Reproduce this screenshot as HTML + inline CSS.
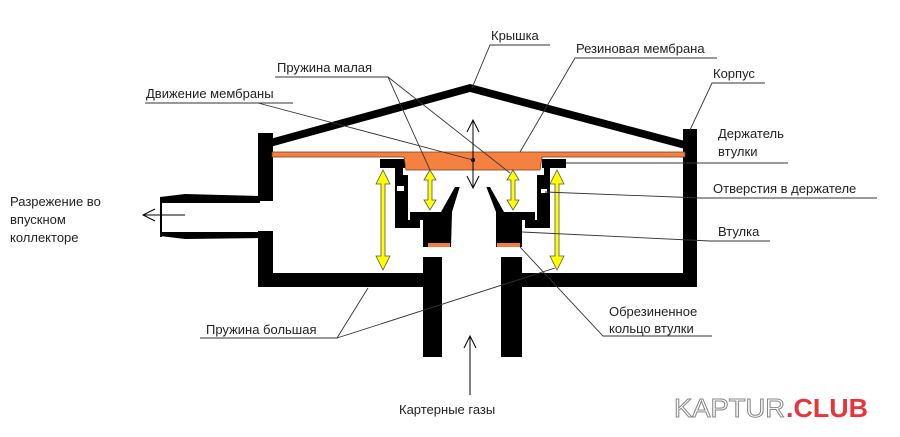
<!DOCTYPE html>
<html><head><meta charset="utf-8"><style>
html,body{margin:0;padding:0;background:#fff;width:900px;height:437px;overflow:hidden}
svg text{font-family:"Liberation Sans",sans-serif;font-size:13px;fill:#222}
</style></head><body>
<svg width="900" height="437" viewBox="0 0 900 437" xmlns="http://www.w3.org/2000/svg">
<g fill="#000">
<polygon points="270,139 470,84 685,141 685,149 470,92 270,147"/>
<rect x="258" y="133" width="15" height="68"/>
<rect x="258" y="231" width="15" height="56"/>
<rect x="683" y="129" width="14" height="158"/>
<rect x="258" y="273" width="439" height="14"/>
<rect x="423" y="257" width="99" height="100"/>
<polygon points="160,197 185,194 260,196 260,203 160,203"/>
<polygon points="160,232 260,232 260,238 185,239 160,236"/>
<rect x="160" y="197" width="2" height="40"/>
<polygon points="380,159 405,159 405,168 403,168 403,175 408,175 408,220 420,220 420,228 395,228 395,168 380,168"/>
<polygon points="566,159 542,159 542,168 544,168 544,175 537,175 537,220 525,220 525,228 550,228 550,168 566,168"/>
<polygon points="410,212 441,212 455,187 490,187 504,212 535,212 535,220 522,220 522,247 423,247 423,220 410,220"/>
</g>
<rect x="442" y="257" width="59" height="100" fill="#fff"/>
<polygon points="460,186 486,186 496,212 496,247 451,247 452,212" fill="#fff"/>
<rect x="397" y="186" width="7" height="5" fill="#fff"/>
<rect x="541" y="189" width="6" height="4" fill="#fff"/>
<rect x="428" y="243" width="22" height="4" fill="#f47c3c"/>
<rect x="497" y="243" width="23" height="4" fill="#f47c3c"/>
<polygon points="272,152 685,152 685,157 542,157 540,170 406,170 404,157 272,157" fill="#f4813f" stroke="#7a3a1a" stroke-width="0.8"/>
<g fill="#ff0" stroke="#555" stroke-width="0.8">
<polygon transform="translate(383,220)" points="0,-50 -7,-36 -2,-36 -2,36 -7,36 0,50 7,36 2,36 2,-36 7,-36"/>
<polygon transform="translate(557,220)" points="0,-50 -7,-36 -2,-36 -2,36 -7,36 0,50 7,36 2,36 2,-36 7,-36"/>
<polygon transform="translate(430,190)" points="0,-20 -6,-10 -2,-10 -2,10 -6,10 0,20 6,10 2,10 2,-10 6,-10"/>
<polygon transform="translate(513,190)" points="0,-20 -6,-10 -2,-10 -2,10 -6,10 0,20 6,10 2,10 2,-10 6,-10"/>
</g>
<g stroke="#000" stroke-width="1" fill="none">
<line x1="473" y1="120" x2="473" y2="188"/>
<polyline points="467,132 473,120 479,132"/>
<polyline points="467,176 473,188 479,176"/>
<line x1="470" y1="395" x2="470" y2="336"/>
<polyline points="464,348 470,336 476,348"/>
<line x1="185" y1="215" x2="143" y2="215"/>
<polyline points="155,209 143,215 155,221"/>
</g>
<circle cx="473" cy="160" r="2" fill="#000"/>
<g stroke="#333" stroke-width="0.9" fill="none">
<polyline points="550,45 490,45 472,88"/>
<polyline points="717,58 575,58 520,152"/>
<polyline points="765,83 712,83 690,130"/>
<polyline points="275,77 388,77 430,170"/>
<line x1="388" y1="77" x2="510" y2="173"/>
<polyline points="145,103 293,103"/>
<line x1="258" y1="103" x2="473" y2="160"/>
<line x1="566" y1="163" x2="788" y2="163"/>
<polyline points="545,192 700,198 877,198"/>
<polyline points="522,232 710,241 770,241"/>
<polyline points="520,247 603,336 712,336"/>
<polyline points="368,288 337,338 200,338"/>
<line x1="337" y1="338" x2="555" y2="268"/>
</g>
<text x="491" y="40">Крышка</text>
<text x="576" y="53">Резиновая мембрана</text>
<text x="713" y="78">Корпус</text>
<text x="277" y="72">Пружина малая</text>
<text x="146" y="98">Движение мембраны</text>
<text x="718" y="138">Держатель</text>
<text x="718" y="156">втулки</text>
<text x="713" y="193">Отверстия в держателе</text>
<text x="718" y="236">Втулка</text>
<text x="609" y="316">Обрезиненное</text>
<text x="609" y="333">кольцо втулки</text>
<text x="206" y="334">Пружина большая</text>
<text x="10" y="206">Разрежение во</text>
<text x="10" y="224">впускном</text>
<text x="10" y="242">коллекторе</text>
<text x="399" y="414">Картерные газы</text>
<text x="674" y="417" textLength="111" lengthAdjust="spacingAndGlyphs" style="font-size:26px;fill:#fff;stroke:#888;stroke-width:1">KAPTUR</text>
<text x="786" y="417" textLength="82" lengthAdjust="spacingAndGlyphs" style="font-size:26px;font-weight:bold;fill:#e8343a">.CLUB</text>
</svg>
</body></html>
